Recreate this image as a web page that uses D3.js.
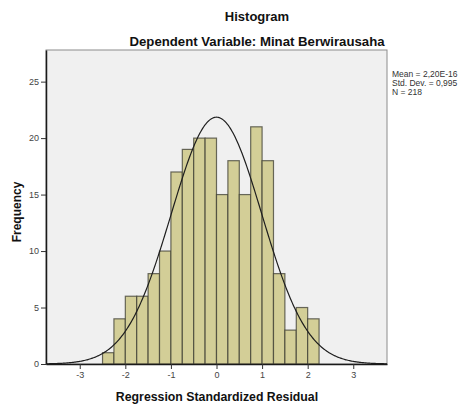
<!DOCTYPE html>
<html>
<head>
<meta charset="utf-8">
<script src="https://cdn.jsdelivr.net/npm/d3@7"></script>
<style>
  body { margin: 0; background: #fff; }
  text { font-family: Arial, "Liberation Sans", sans-serif; }
</style>
</head>
<body>
<div id="root"></div>
<script>
// Histogram bins (lower edges) and counts, bin width 0.25
const binStarts = [-2.5, -2.25, -2, -1.75, -1.5, -1.25, -1, -0.75, -0.5, -0.25,
                   0, 0.25, 0.5, 0.75, 1, 1.25, 1.5, 1.75, 2];
const binCounts = [1, 4, 6, 6, 8, 10, 17, 19, 20, 20, 15, 18, 15, 21, 18, 8, 3, 5, 4];
const binWidth = 0.25;
const xTicks = [-3, -2, -1, 0, 1, 2, 3];
const yTicks = [0, 5, 10, 15, 20, 25];
// fitted normal curve parameters (from the legend)
const mean = 0, stdDev = 0.995, n = 218;
const legendLines = ["Mean = 2,20E-16", "Std. Dev. = 0,995", "N = 218"];

const width = 463, height = 405;
const plot = { left: 46, top: 50, right: 387, bottom: 364 };

const svg = d3.select("#root").append("svg")
  .attr("width", width)
  .attr("height", height);

const x = d3.scaleLinear().domain([-3.74, 3.74]).range([plot.left, plot.right]);
const y = d3.scaleLinear().domain([0, 27.8]).range([plot.bottom, plot.top]);

// plot background
svg.append("rect")
  .attr("x", plot.left).attr("y", plot.top)
  .attr("width", plot.right - plot.left).attr("height", plot.bottom - plot.top)
  .attr("fill", "#f0f0f0")
  .attr("stroke", "#8c8c8c")
  .attr("stroke-width", 1);

// bars
svg.append("g").selectAll("rect")
  .data(binCounts)
  .join("rect")
    .attr("x", (d, i) => x(binStarts[i]))
    .attr("y", d => y(d))
    .attr("width", (d, i) => x(binStarts[i] + binWidth) - x(binStarts[i]))
    .attr("height", d => y(0) - y(d))
    .attr("fill", "#d3ce97")
    .attr("stroke", "#3c3c32")
    .attr("stroke-opacity", 0.75)
    .attr("stroke-width", 1.2);

// normal curve
const pdf = v => n * binWidth / (stdDev * Math.sqrt(2 * Math.PI)) *
  Math.exp(-0.5 * Math.pow((v - mean) / stdDev, 2));
const curveX = d3.range(-3.74, 3.7401, 0.02);
svg.append("path")
  .datum(curveX)
  .attr("d", d3.line().x(d => x(d)).y(d => y(pdf(d))))
  .attr("fill", "none")
  .attr("stroke", "#1e1e1e")
  .attr("stroke-width", 1.2);

// axes (plain hyphen minus like the original)
const fmt = d => String(d);
const xAxis = svg.append("g")
  .attr("transform", `translate(0,${plot.bottom})`)
  .call(d3.axisBottom(x).tickValues(xTicks).tickFormat(fmt).tickSize(5).tickSizeOuter(0).tickPadding(3));
const yAxis = svg.append("g")
  .attr("transform", `translate(${plot.left},0)`)
  .call(d3.axisLeft(y).tickValues(yTicks).tickFormat(fmt).tickSize(5).tickSizeOuter(0).tickPadding(2));

[xAxis, yAxis].forEach(a => {
  a.select(".domain").attr("stroke", "#1a1a1a").attr("stroke-width", 1.5);
  a.selectAll(".tick line").attr("stroke", "#333");
  a.selectAll(".tick text")
    .attr("fill", "#444")
    .style("font-size", "9px")
    .style("font-family", "Arial, 'Liberation Sans', sans-serif");
});

// titles
svg.append("text")
  .attr("x", 257).attr("y", 21)
  .attr("text-anchor", "middle")
  .style("font-size", "13px").style("font-weight", "bold")
  .attr("fill", "#111")
  .text("Histogram");
svg.append("text")
  .attr("x", 257).attr("y", 46)
  .attr("text-anchor", "middle")
  .style("font-size", "13.2px").style("font-weight", "bold")
  .attr("fill", "#111")
  .text("Dependent Variable: Minat Berwirausaha");

svg.append("text")
  .attr("x", 217).attr("y", 401)
  .attr("text-anchor", "middle")
  .style("font-size", "12.3px").style("font-weight", "bold")
  .attr("fill", "#111")
  .text("Regression Standardized Residual");

svg.append("text")
  .attr("transform", `translate(21, ${(plot.top + plot.bottom) / 2 + 5}) rotate(-90)`)
  .attr("text-anchor", "middle")
  .style("font-size", "12px").style("font-weight", "bold")
  .attr("fill", "#111")
  .text("Frequency");

// legend text
svg.append("g").selectAll("text")
  .data(legendLines)
  .join("text")
    .attr("x", 392)
    .attr("y", (d, i) => 77 + i * 9)
    .style("font-size", "8.5px")
    .attr("fill", "#333")
    .text(d => d);
</script>
</body>
</html>
